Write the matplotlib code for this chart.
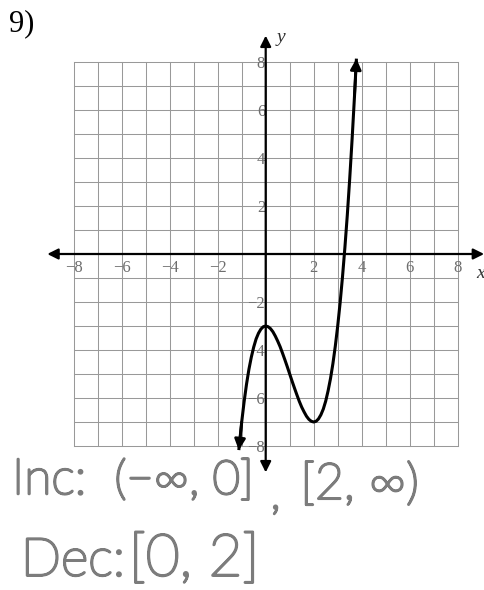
import matplotlib
matplotlib.use('Agg')
from matplotlib import pyplot as plt
from matplotlib import patheffects as pe

# graph paper extent and labelled ticks
grid_min, grid_max = -8, 8
tick_vals = [-8, -6, -4, -2, 2, 4, 6, 8]
axis_reach = 9.1

# points along the sketched curve
curve_x = [-1.12, -1.0, -0.9, -0.8, -0.7, -0.6, -0.5, -0.4, -0.3, -0.2, -0.1,
           0.0, 0.1, 0.2, 0.3, 0.4, 0.5, 0.6, 0.7, 0.8, 0.9, 1.0,
           1.1, 1.2, 1.3, 1.4, 1.5, 1.6, 1.7, 1.8, 1.9, 2.0,
           2.1, 2.2, 2.3, 2.4, 2.5, 2.6, 2.7, 2.8, 2.9, 3.0,
           3.1, 3.2, 3.3, 3.4, 3.5, 3.6, 3.7, 3.78]
curve_y = [-8.17, -7.0, -6.16, -5.43, -4.81, -4.30, -3.88, -3.54, -3.30, -3.13, -3.03,
           -3.0, -3.03, -3.11, -3.24, -3.42, -3.63, -3.86, -4.13, -4.41, -4.70, -5.0,
           -5.30, -5.59, -5.87, -6.14, -6.38, -6.58, -6.76, -6.89, -6.97, -7.0,
           -6.97, -6.87, -6.70, -6.46, -6.13, -5.70, -5.19, -4.57, -3.84, -3.0,
           -2.04, -0.95, 0.27, 1.62, 3.13, 4.78, 6.58, 8.14]

problem_num = '9)'
inc_parts = ['Inc:', '(−∞, 0]', ',', '[2, ∞)']
dec_parts = ['Dec:', '[0, 2]']

fig = plt.figure(figsize=(4.85, 5.9), dpi=100)
ax = fig.add_axes([0, 0, 1, 1])
ax.set_xlim((0 - 265.7) / 24, (485 - 265.7) / 24)
ax.set_ylim((254 - 590) / 24, (254 - 0) / 24)
ax.axis('off')

# grid squares
grid_col = '#999999'
for v in range(grid_min, grid_max + 1):
    ax.plot([v, v], [grid_min, grid_max], color=grid_col, lw=0.75, zorder=1)
    ax.plot([grid_min, grid_max], [v, v], color=grid_col, lw=0.75, zorder=1)

# axes with arrows at both ends
arrow_kw = dict(arrowstyle='<|-|>', color='black', lw=1.6, mutation_scale=16,
                shrinkA=0, shrinkB=0)
ax.annotate('', xy=(axis_reach, 0), xytext=(-axis_reach, 0), arrowprops=arrow_kw, zorder=3)
ax.annotate('', xy=(0, axis_reach), xytext=(0, -axis_reach), arrowprops=arrow_kw, zorder=3)

serif = 'Liberation Serif'
lab_col = '#6e6e6e'
for t in tick_vals:
    lab = str(t).replace('-', '−')
    ax.text(t, -0.6, lab, ha='center', va='center', fontsize=12,
            family=serif, color=lab_col, zorder=2)
    ax.text(-0.02, t - 0.1, lab, ha='right', va='center', fontsize=12,
            family=serif, color=lab_col, zorder=2)

ax.text(0.65, 9.0, 'y', ha='center', va='center', fontsize=14, family=serif,
        style='italic', color='#333333')
ax.text(8.95, -0.8, 'x', ha='center', va='center', fontsize=14, family=serif,
        style='italic', color='#333333')

ax.text(-10.7, 9.6, problem_num, ha='left', va='center', fontsize=22,
        family=serif, color='black')

# the curve, with arrowheads on both ends
ax.plot(curve_x, curve_y, color='black', lw=2.2, zorder=4, solid_capstyle='butt')
head_kw = dict(arrowstyle='-|>', color='black', lw=2.0, mutation_scale=16,
               shrinkA=0, shrinkB=0)
ax.annotate('', xy=(curve_x[-1], curve_y[-1]), xytext=(curve_x[-2], curve_y[-2]),
            arrowprops=head_kw, zorder=4)
ax.annotate('', xy=(curve_x[0], curve_y[0]), xytext=(curve_x[1], curve_y[1]),
            arrowprops=head_kw, zorder=4)

# handwritten answers, thin font thickened with a stroke
hand = ['Lato', 'DejaVu Sans']
hand_col = '#7c7c7c'
pencil = [pe.withStroke(linewidth=1.8, foreground=hand_col)]
inc_x = [-10.57, -6.3, 0.2, 1.45]
inc_y = [-10.0, -10.0, -10.6, -10.2]
inc_size = [36, 34, 34, 36]
for s, px, py, fs in zip(inc_parts, inc_x, inc_y, inc_size):
    ax.text(px, py, s, ha='left', va='baseline', fontsize=fs, family=hand,
            weight='light', color=hand_col, path_effects=pencil)
dec_x = [-10.2, -5.7]
dec_size = [38, 42]
for s, px, fs in zip(dec_parts, dec_x, dec_size):
    ax.text(px, -13.4, s, ha='left', va='baseline', fontsize=fs, family=hand,
            weight='light', color=hand_col, path_effects=pencil)

fig.savefig('out.png', dpi=100)
